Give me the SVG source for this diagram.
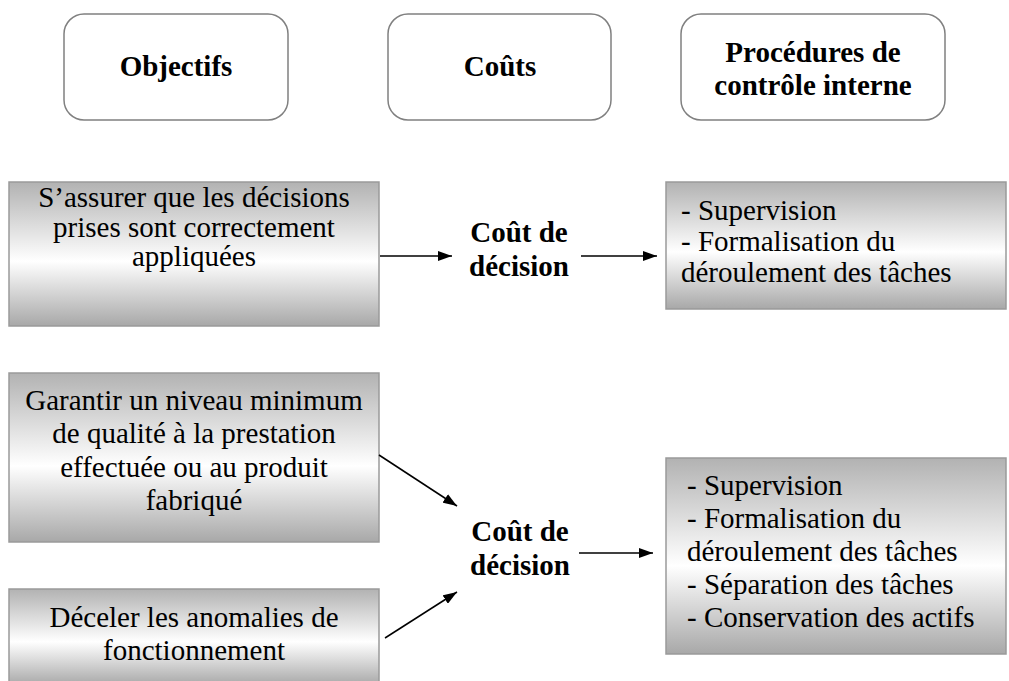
<svg xmlns="http://www.w3.org/2000/svg" width="1009" height="681" viewBox="0 0 1009 681">
<defs>
<linearGradient id="grad" x1="0" y1="0" x2="0" y2="1">
<stop offset="0" stop-color="#b2b2b2"/>
<stop offset="0.55" stop-color="#ffffff"/>
<stop offset="1" stop-color="#a8a8a8"/>
</linearGradient>
<marker id="arr" markerWidth="14" markerHeight="10" refX="14" refY="5" orient="auto" markerUnits="userSpaceOnUse">
<path d="M0,0 L14,5 L0,10 Z" fill="#000"/>
</marker>
</defs>
<rect width="1009" height="681" fill="#fff"/>
<g font-family="Liberation Serif" font-size="29" fill="#000">
<g id="head-objectifs">
<rect x="64" y="14" width="224" height="106" rx="20" fill="#fff" stroke="#808080" stroke-width="1.5"/>
<text font-family="Liberation Serif" font-weight="bold" text-anchor="middle" x="176" y="76">Objectifs</text>
</g>
<g id="head-couts">
<rect x="388" y="14" width="223" height="106" rx="20" fill="#fff" stroke="#808080" stroke-width="1.5"/>
<text font-family="Liberation Serif" font-weight="bold" text-anchor="middle" x="500" y="76">Coûts</text>
</g>
<g id="head-procedures" font-weight="bold" text-anchor="middle">
<rect x="681" y="14" width="264" height="106" rx="20" fill="#fff" stroke="#808080" stroke-width="1.5"/>
<text font-family="Liberation Serif" x="813" y="62">Procédures de</text>
<text font-family="Liberation Serif" x="813" y="95">contrôle interne</text>
</g>
<g id="obj1" text-anchor="middle">
<rect x="9" y="182" width="370" height="144" fill="url(#grad)" stroke="#9a9a9a" stroke-width="1.5"/>
<text font-family="Liberation Serif" x="194" y="207">S’assurer que les décisions</text>
<text font-family="Liberation Serif" x="194" y="237">prises sont correctement</text>
<text font-family="Liberation Serif" x="194" y="266">appliquées</text>
</g>
<g id="cout1" font-weight="bold" text-anchor="middle">
<text font-family="Liberation Serif" x="519" y="242">Coût de</text>
<text font-family="Liberation Serif" x="519" y="276">décision</text>
</g>
<g id="proc1">
<rect x="666" y="182" width="340" height="127" fill="url(#grad)" stroke="#9a9a9a" stroke-width="1.5"/>
<text font-family="Liberation Serif" x="681" y="220">- Supervision</text>
<text font-family="Liberation Serif" x="681" y="251">- Formalisation du</text>
<text font-family="Liberation Serif" x="681" y="282">déroulement des tâches</text>
</g>
<g id="obj2" text-anchor="middle">
<rect x="9" y="373" width="370" height="169" fill="url(#grad)" stroke="#9a9a9a" stroke-width="1.5"/>
<text font-family="Liberation Serif" x="194" y="410">Garantir un niveau minimum</text>
<text font-family="Liberation Serif" x="194" y="443">de qualité à la prestation</text>
<text font-family="Liberation Serif" x="194" y="477">effectuée ou au produit</text>
<text font-family="Liberation Serif" x="194" y="510">fabriqué</text>
</g>
<g id="obj3" text-anchor="middle">
<rect x="9" y="589" width="370" height="96" fill="url(#grad)" stroke="#9a9a9a" stroke-width="1.5"/>
<text font-family="Liberation Serif" x="194" y="627">Déceler les anomalies de</text>
<text font-family="Liberation Serif" x="194" y="660">fonctionnement</text>
</g>
<g id="cout2" font-weight="bold" text-anchor="middle">
<text font-family="Liberation Serif" x="520" y="541">Coût de</text>
<text font-family="Liberation Serif" x="520" y="575">décision</text>
</g>
<g id="proc2">
<rect x="666" y="458" width="340" height="196" fill="url(#grad)" stroke="#9a9a9a" stroke-width="1.5"/>
<text font-family="Liberation Serif" x="687" y="495">- Supervision</text>
<text font-family="Liberation Serif" x="687" y="528">- Formalisation du</text>
<text font-family="Liberation Serif" x="687" y="561">déroulement des tâches</text>
<text font-family="Liberation Serif" x="687" y="594">- Séparation des tâches</text>
<text font-family="Liberation Serif" x="687" y="627">- Conservation des actifs</text>
</g>
</g>
<g id="connectors" stroke="#000" stroke-width="1.5" fill="none" marker-end="url(#arr)">
<line x1="380" y1="256" x2="452" y2="256"/>
<line x1="581" y1="256" x2="657" y2="256"/>
<line x1="379" y1="455" x2="457" y2="506"/>
<line x1="385" y1="638" x2="457" y2="592"/>
<line x1="579" y1="553" x2="653" y2="553"/>
</g>
</svg>
